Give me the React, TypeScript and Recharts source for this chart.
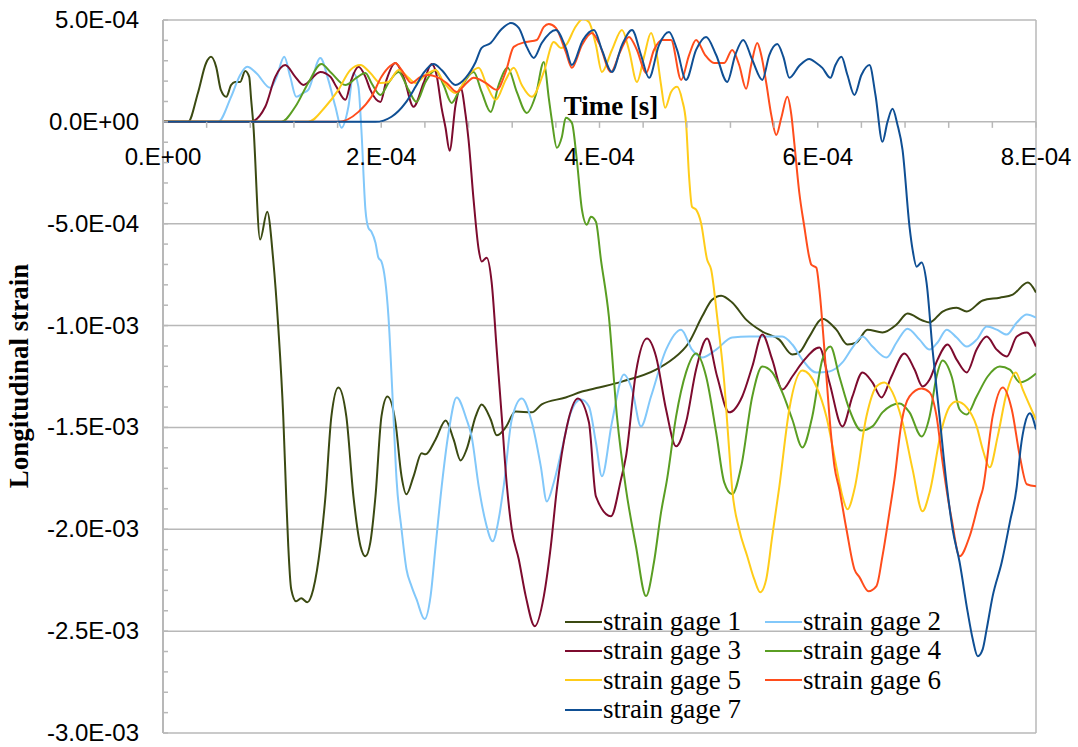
import React from 'react';
import { LineChart, Line, XAxis, YAxis, CartesianGrid, Legend, Customized } from 'recharts';

// time in microseconds, strain in microstrain
const gage1: [number, number][] = [
  [0, 0], [23, 0], [32, 142], [39.5, 289], [44, 319], [48.7, 270], [53, 157], [58, 123], [62.4, 181], [66, 196],
  [70.7, 196], [75.3, 250], [79, 221], [80.8, 108], [82.6, 0], [89, -578], [95.5, -441], [101, -677], [105.6, -1005],
  [110.2, -1446], [113, -1853], [114.8, -2083], [117.5, -2294], [122, -2353], [126.7, -2338], [132.2, -2358],
  [137.7, -2294], [144.2, -2083], [148.8, -1843], [154.3, -1446], [160.7, -1304], [168, -1446], [174.5, -1838],
  [181, -2083], [185.5, -2132], [190, -2064], [194.7, -1838], [200.2, -1446], [205.7, -1348], [213, -1475],
  [218.6, -1740], [223, -1828], [229.6, -1740], [237, -1627], [240.6, -1632], [249.8, -1559], [259, -1466],
  [266.3, -1559], [272.7, -1662], [278.2, -1608], [286.5, -1446], [292, -1387], [300.3, -1461], [305.8, -1539],
  [314, -1500], [323, -1422], [338, -1426], [347, -1387], [369, -1353], [384, -1324], [399.5, -1304], [420.6, -1275],
  [451.8, -1216], [466.5, -1167], [482, -1083], [494, -956], [503.2, -873], [511.5, -853], [521.6, -887],
  [534.4, -971], [549, -1029], [564.7, -1069], [576.7, -1142], [583, -1132], [592.3, -1054], [604.2, -966],
  [617, -1020], [627.2, -1093], [635.5, -1083], [645.5, -1020], [659.3, -1034], [672.2, -995], [682.3, -941],
  [696, -975], [702.5, -985], [714.4, -931], [727.3, -912], [736.5, -931], [751.2, -877], [766.8, -863],
  [778.7, -848], [792.5, -789], [800, -838],
];

const gage2: [number, number][] = [
  [0, 0], [50.5, 0], [62.4, 123], [70.7, 230], [77.1, 270], [85.4, 240], [98.3, 167], [103.8, 216], [111.1, 319],
  [116.6, 221], [122.1, 123], [128.6, 142], [133.1, 157], [144.2, 314], [151.5, 206], [158, 74], [163.5, -29],
  [169.9, 74], [174.5, 240], [179.1, 172], [181.8, -39], [185.5, -431], [188.2, -520], [191, -539], [194.7, -593],
  [197.4, -667], [200.2, -686], [206.6, -956], [211.2, -1446], [214, -1755], [218.6, -2000], [223.1, -2196],
  [227.7, -2279], [232.3, -2343], [239.7, -2441], [245.2, -2328], [249.8, -2083], [254.4, -1838], [261.7, -1525],
  [269.1, -1353], [278.2, -1461], [282.8, -1544], [289.3, -1789], [295.7, -1966], [302.1, -2059], [307.6, -1951],
  [312.2, -1789], [319.6, -1461], [328.8, -1358], [338, -1475], [346.2, -1691], [351.7, -1863], [358.1, -1770],
  [365.5, -1608], [373.7, -1426], [382.9, -1363], [390.3, -1397], [396.7, -1574], [402.2, -1740], [411.4, -1475],
  [422.4, -1240], [429.8, -1314], [438, -1495], [447.2, -1348], [461, -1118], [474.8, -1020], [484.8, -1118],
  [494, -1157], [506.9, -1118], [521.6, -1059], [537.2, -1054], [552.8, -1054], [567.5, -1054], [576.7, -1093],
  [585.9, -1167], [598.7, -1230], [610.7, -1225], [622.6, -1181], [631.8, -1108], [641, -1054], [650.1, -1103],
  [663, -1157], [672.2, -1083], [682.3, -1015], [693.3, -1069], [702.5, -1118], [709.8, -1083], [718.1, -1020],
  [727.3, -1059], [736.5, -1103], [745.6, -1069], [754.8, -1005], [764, -1020], [773.2, -1044], [782.4, -985],
  [791.6, -946], [800, -961],
];

const gage3: [number, number][] = [
  [0, 0], [79.9, 0], [93.7, 74], [102.9, 221], [112, 279], [121.2, 221], [128.6, 181], [144.2, 245], [153.4, 221],
  [158.9, 172], [167.1, 108], [172.6, 206], [179.1, 270], [185.5, 221], [190, 157], [199.3, 98], [204.8, 206],
  [213, 289], [220.4, 221], [229.6, 74], [238.8, 191], [246.1, 284], [250.7, 230], [255.3, 69], [258.9, -29],
  [262.6, -142], [268.1, 83], [272.7, 167], [277.3, 34], [280, -88], [284.6, -382], [289.3, -627], [292, -686],
  [296.6, -667], [301.2, -789], [305.8, -1118], [310.4, -1446], [315, -1779], [319.6, -2000], [326, -2147],
  [332.4, -2328], [340.7, -2476], [349, -2328], [355.4, -2083], [360.9, -1804], [370.1, -1495], [380.2, -1358],
  [390.3, -1475], [396.7, -1838], [410.5, -1936], [419.7, -1755], [424.3, -1642], [433.4, -1230], [443.5, -1064],
  [451.8, -1152], [461, -1412], [470.2, -1593], [479.3, -1475], [488.5, -1216], [498.6, -1064], [507.8, -1250],
  [518.8, -1426], [530.8, -1348], [540, -1201], [549.2, -1044], [558.3, -1167], [567.5, -1314], [576.7, -1250],
  [585.9, -1181], [601.5, -1108], [610.7, -1279], [622.6, -1495], [631.8, -1348], [641, -1230], [650.1, -1279],
  [658.4, -1353], [667.6, -1250], [679.5, -1137], [688.7, -1216], [696, -1299], [702.5, -1265], [709.8, -1167],
  [719, -1093], [727.3, -1167], [736.5, -1230], [745.6, -1118], [754.8, -1054], [764, -1118], [773.2, -1152],
  [782.4, -1054], [791.6, -1034], [800, -1103],
];

const gage4: [number, number][] = [
  [0, 0], [108.4, 0], [121.2, 74], [133.1, 191], [145.1, 284], [154.3, 240], [167.1, 181], [177.2, 216],
  [185.5, 240], [191, 191], [199.3, 132], [206.6, 191], [215.8, 245], [225, 157], [232.3, 98], [240.6, 196],
  [249.8, 255], [257.1, 181], [264.5, 93], [270.9, 147], [284.7, 245], [292, 147], [300.3, 49], [307.6, 181],
  [315.9, 265], [324.2, 147], [333.3, 44], [341.6, 132], [349, 294], [353.5, 118], [356.3, 10], [360.9, -127],
  [365.5, -74], [369.1, 20], [374.7, -5], [379.2, -186], [383.9, -431], [388.4, -505], [392.1, -466],
  [396.7, -490], [401.3, -676], [408.6, -956], [416, -1446], [424.3, -1804], [433.4, -2083], [442.6, -2328],
  [449.9, -2162], [456.4, -1917], [461.9, -1755], [470.2, -1446], [479.3, -1230], [488.5, -1137], [497.7, -1250],
  [506.9, -1525], [514.3, -1770], [521.6, -1828], [529.9, -1691], [540, -1348], [549.2, -1201], [558.3, -1230],
  [567.5, -1328], [576.7, -1461], [585.9, -1598], [595, -1446], [604.2, -1167], [611.6, -1103], [619.8, -1250],
  [629, -1412], [640, -1515], [650.1, -1495], [659.3, -1426], [675, -1382], [684.1, -1426], [695.1, -1544],
  [702.5, -1446], [708.9, -1250], [714.4, -1172], [722.7, -1250], [730, -1412], [736.5, -1436], [745.6, -1348],
  [755.7, -1250], [766.8, -1201], [776, -1216], [785.2, -1279], [792.5, -1265], [800, -1235],
];

const gage5: [number, number][] = [
  [0, 0], [133.1, 0], [148.8, 74], [160.7, 157], [171.7, 255], [180.9, 279], [190, 240], [199.3, 191],
  [206.6, 196], [215.8, 255], [225, 216], [231.4, 191], [240.6, 230], [249.8, 255], [257.1, 196], [268.1, 142],
  [280, 230], [289.3, 265], [296.6, 181], [304.9, 108], [314, 206], [321.4, 265], [328.8, 181], [338, 123],
  [349, 245], [358.1, 392], [364.6, 363], [370, 382], [377.4, 461], [384.8, 505], [390.3, 490], [396.7, 377],
  [402.2, 245], [411.4, 353], [420.6, 451], [427, 353], [434.3, 196], [440.8, 319], [447.2, 436], [451.8, 353],
  [456.4, 181], [460.1, 69], [465.6, 147], [471.1, 172], [475.7, 108], [479.3, -5], [482.1, -270], [484.8, -417],
  [488.5, -431], [493, -495], [498.6, -676], [502.3, -725], [507.8, -956], [514.3, -1279], [518.8, -1608],
  [521.6, -1804], [528, -2000], [535.4, -2132], [541.8, -2245], [547.3, -2309], [552.8, -2245], [558.3, -2034],
  [564.7, -1794], [573.9, -1412], [585.9, -1221], [598.7, -1299], [607.9, -1446], [617, -1691], [622.6, -1838],
  [627.2, -1902], [633.6, -1804], [644.6, -1446], [653.8, -1299], [661.2, -1279], [668.5, -1328], [677.7, -1475],
  [686.9, -1706], [696, -1912], [702.5, -1819], [713.5, -1510], [720.9, -1397], [727.3, -1373], [736.5, -1402],
  [745.6, -1495], [751.2, -1608], [757.6, -1696], [764.9, -1544], [773.2, -1328], [781.5, -1230], [787.9, -1314],
  [800, -1461],
];

const gage6: [number, number][] = [
  [0, 0], [160.7, 0], [179.1, 49], [191, 123], [200.2, 221], [208.4, 275], [213, 289], [218.6, 255], [227.7, 191],
  [236, 221], [243.3, 230], [250.7, 221], [259.9, 191], [269.1, 147], [278.2, 191], [284.7, 216], [295.7, 191],
  [305.8, 157], [314, 245], [321.4, 368], [332.4, 392], [342.5, 402], [349, 466], [353.5, 480], [360, 461],
  [369.1, 343], [374.7, 265], [383.9, 377], [393, 436], [399.5, 387], [410.5, 245], [418.8, 343], [427, 417],
  [434.3, 353], [442.6, 240], [449.9, 353], [457.3, 402], [465.6, 402], [474.8, 206], [482.1, 328], [488.5, 402],
  [496.8, 328], [505, 289], [514.3, 289], [521.6, 353], [528, 279], [534.4, 162], [539, 279], [544.6, 387],
  [548.2, 328], [552.8, 191], [557.4, 34], [562, -64], [566.6, 20], [572.1, 123], [575.8, 34], [578.5, -103],
  [583.1, -348], [587.7, -515], [592.3, -667], [594.1, -701], [598.7, -716], [601.5, -824], [606.1, -1118],
  [610.7, -1446], [615.3, -1691], [619.8, -1804], [626.3, -2000], [633.6, -2196], [638.2, -2235], [646.5, -2304],
  [653.8, -2279], [659.3, -2132], [665.7, -1917], [670.3, -1755], [676.8, -1475], [684.1, -1348], [695.1, -1309],
  [702.5, -1328], [708.9, -1446], [714.4, -1672], [719, -1838], [722.7, -1951], [730, -2132], [739.2, -2034],
  [748.4, -1853], [751.2, -1804], [760.3, -1446], [769.5, -1304], [777.8, -1412], [785.2, -1642], [791.6, -1779],
  [800, -1789],
];

const gage7: [number, number][] = [
  [0, 0], [194.7, 0], [209.4, 25], [222.2, 93], [231.4, 172], [238.8, 240], [248, 284], [255.3, 255], [268.1, 181],
  [277.3, 216], [286.5, 294], [292, 363], [300.3, 387], [309.5, 451], [318.7, 485], [326, 461], [333.3, 368],
  [339.8, 314], [347.1, 387], [360, 451], [369.1, 363], [374.7, 279], [384.8, 402], [394.9, 451], [402.2, 353],
  [411.4, 245], [420.6, 377], [429.8, 451], [438, 328], [445.4, 216], [454.5, 377], [463.7, 441], [471.1, 353],
  [479.3, 206], [488.5, 353], [497.7, 417], [506.9, 328], [517, 196], [524.4, 328], [531.7, 402], [540, 304],
  [549.2, 206], [555.6, 328], [562.9, 382], [568.5, 319], [574, 216], [583.1, 275], [592.3, 309], [598.7, 289],
  [604.2, 265], [611.6, 216], [616.2, 279], [621.7, 319], [627.2, 230], [633.6, 132], [640, 230], [647.4, 279],
  [652.9, 132], [659.3, -98], [663.9, 0], [668.5, 64], [673.1, -15], [677.7, -137], [684.1, -515], [686.9, -627],
  [690.6, -711], [695.1, -691], [699.7, -789], [705.2, -1118], [711.6, -1446], [718.1, -1779], [723.6, -2000],
  [730, -2162], [737.4, -2407], [742, -2539], [746.6, -2623], [751.2, -2588], [754.8, -2490], [760.3, -2328],
  [768.6, -2162], [776, -1966], [782.4, -1789], [786, -1600], [789.7, -1485], [794.3, -1431], [800, -1510],
];

const SERIES = [
  { name: 'strain gage 1', color: '#3b4a12', points: gage1 },
  { name: 'strain gage 2', color: '#82c8fa', points: gage2 },
  { name: 'strain gage 3', color: '#7d0b2e', points: gage3 },
  { name: 'strain gage 4', color: '#5a9e23', points: gage4 },
  { name: 'strain gage 5', color: '#ffcc19', points: gage5 },
  { name: 'strain gage 6', color: '#ff4d1c', points: gage6 },
  { name: 'strain gage 7', color: '#0f4f94', points: gage7 },
];

const X_TICKS = [0, 40, 80, 120, 160, 200, 240, 280, 320, 360, 400, 440, 480, 520, 560, 600, 640, 680, 720, 760, 800];
const X_MAJOR = [0, 200, 400, 600, 800];
const X_LABELS = ['0.E+00', '2.E-04', '4.E-04', '6.E-04', '8.E-04'];
const Y_TICKS = Array.from({ length: 36 }, (_, i) => -3000 + i * 100);
const Y_MAJOR = [500, 0, -500, -1000, -1500, -2000, -2500, -3000];
const Y_LABELS = ['5.0E-04', '0.0E+00', '-5.0E-04', '-1.0E-03', '-1.5E-03', '-2.0E-03', '-2.5E-03', '-3.0E-03'];

const W = 1078;
const H = 747;
const TOP = 20;
const BOTTOM = 733;
const LEFT = 163;
const RIGHT = 1036;
const Y_MIN = -3000;
const Y_MAX = 500;
const Y0 = TOP + ((BOTTOM - TOP) * Y_MAX) / (Y_MAX - Y_MIN);
const AXIS = '#b8b8b8';
const SANS = '"Liberation Sans", Arial, sans-serif';
const SERIF = '"Liberation Serif", "Times New Roman", serif';

// x axis sits on the zero line, so ticks are drawn there instead of at the bottom
const XTick = (props: any) => {
  const { x, payload } = props;
  const i = X_MAJOR.indexOf(payload.value);
  return (
    <g>
      <line x1={x} x2={x} y1={Y0} y2={Y0 + 6} stroke={AXIS} strokeWidth={1.5} />
      {i >= 0 && (
        <text x={x} y={Y0 + 43} textAnchor="middle" fontSize={24} fontFamily={SANS} fill="#000">
          {X_LABELS[i]}
        </text>
      )}
    </g>
  );
};

const YTick = (props: any) => {
  const { y, payload } = props;
  const i = Y_MAJOR.indexOf(payload.value);
  return (
    <g>
      <line x1={LEFT} x2={LEFT + 5} y1={y} y2={y} stroke={AXIS} strokeWidth={1.5} />
      {i >= 0 && (
        <text x={139} y={y} dy={8} textAnchor="end" fontSize={24} fontFamily={SANS} fill="#000">
          {Y_LABELS[i]}
        </text>
      )}
    </g>
  );
};

const LegendContent = () => (
  <div
    style={{
      display: 'grid',
      gridTemplateColumns: '200px 200px',
      fontFamily: SERIF,
      fontSize: 27,
      lineHeight: '29.3px',
      color: '#000',
    }}
  >
    {SERIES.map((s) => (
      <div key={s.name} style={{ display: 'flex', alignItems: 'center', whiteSpace: 'nowrap' }}>
        <span style={{ display: 'inline-block', width: 37, borderTop: `2px solid ${s.color}`, marginRight: 1 }} />
        <span>{s.name}</span>
      </div>
    ))}
  </div>
);

const TimeTitle = () => (
  <g>
    <rect x={557} y={88} width={106} height={32} fill="#fff" />
    <text x={611} y={115} textAnchor="middle" fontSize={27} fontWeight="bold" fontFamily={SERIF} fill="#000">
      Time [s]
    </text>
  </g>
);

export default function App() {
  return (
    <div style={{ position: 'absolute', left: 0, top: 0, width: W, height: H, background: '#fff' }}>
      <LineChart width={W} height={H} margin={{ top: TOP, right: W - RIGHT, bottom: 0, left: 0 }}>
        <CartesianGrid
          horizontalValues={Y_MAJOR}
          verticalValues={[800]}
          stroke={AXIS}
          strokeWidth={1.5}
        />
        <XAxis
          type="number"
          dataKey="t"
          domain={[0, 800]}
          ticks={X_TICKS}
          interval={0}
          allowDataOverflow
          height={H - BOTTOM}
          axisLine={false}
          tickLine={false}
          tick={XTick}
        />
        <YAxis
          type="number"
          domain={[Y_MIN, Y_MAX]}
          ticks={Y_TICKS}
          interval={0}
          allowDataOverflow
          width={LEFT}
          axisLine={{ stroke: AXIS, strokeWidth: 2 }}
          tickLine={false}
          tick={YTick}
          label={{
            content: () => (
              <text
                x={28}
                y={376}
                transform="rotate(-90 28 376)"
                textAnchor="middle"
                fontSize={27}
                fontWeight="bold"
                fontFamily={SERIF}
                fill="#000"
              >
                Longitudinal strain
              </text>
            ),
          }}
        />
        {SERIES.map((s) => (
          <Line
            key={s.name}
            name={s.name}
            data={s.points.map(([t, v]) => ({ t, v }))}
            dataKey="v"
            type="monotone"
            stroke={s.color}
            strokeWidth={2}
            dot={false}
            activeDot={false}
            isAnimationActive={false}
          />
        ))}
        <Customized component={TimeTitle} />
        <Legend
          layout="vertical"
          align="center"
          verticalAlign="middle"
          wrapperStyle={{ position: 'absolute', left: 565, top: 607, width: 420 }}
          content={LegendContent}
        />
      </LineChart>
    </div>
  );
}
